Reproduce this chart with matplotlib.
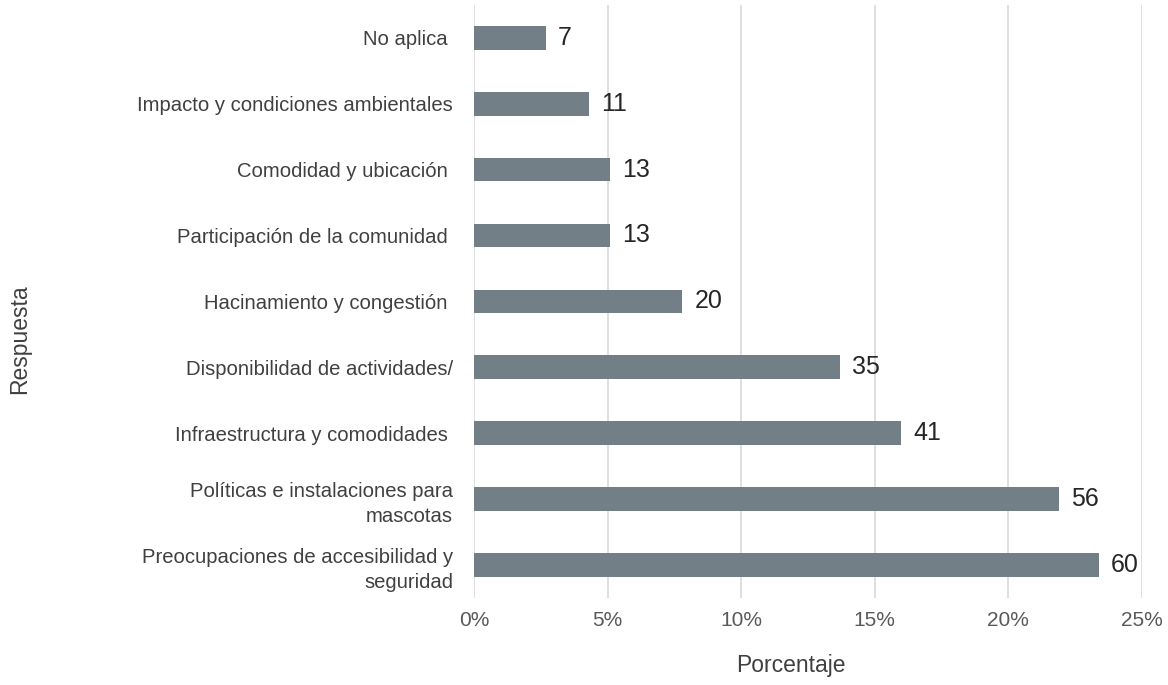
import matplotlib
matplotlib.use('Agg')
import matplotlib.pyplot as plt
from matplotlib.ticker import PercentFormatter

# categories, bottom to top
categories = [
    "Preocupaciones de accesibilidad y\nseguridad",
    "Políticas e instalaciones para\nmascotas",
    "Infraestructura y comodidades ",
    "Disponibilidad de actividades/",
    "Hacinamiento y congestión ",
    "Participación de la comunidad ",
    "Comodidad y ubicación ",
    "Impacto y condiciones ambientales",
    "No aplica ",
]
counts = [60, 56, 41, 35, 20, 13, 13, 11, 7]
percents = [23.4, 21.9, 16.0, 13.7, 7.8, 5.1, 5.1, 4.3, 2.7]
xticks = [0, 5, 10, 15, 20, 25]

plt.rcParams['font.family'] = ['Liberation Sans', 'DejaVu Sans']

fig = plt.figure(figsize=(11.68, 6.85), dpi=100)
ax = fig.add_axes([0.4058, 0.127, 0.5719, 0.866])

ypos = list(range(len(categories)))
ax.barh(ypos, percents, height=0.36, color='#737F86', zorder=3)

for y, p, c in zip(ypos, percents, counts):
    ax.text(p + 0.45, y, str(c), va='center', ha='left', fontsize=18, color='#262626')

ax.set_xlim(0, 25)
ax.set_ylim(-0.5, len(categories) - 0.5)
ax.set_xticks(xticks)
ax.xaxis.set_major_formatter(PercentFormatter(decimals=0))
ax.set_yticks(ypos)
ax.set_yticklabels(categories, fontsize=14.6, color='#404040', ha='right', linespacing=1.4)
ax.tick_params(axis='y', length=0, pad=15)
ax.tick_params(axis='x', length=0, pad=9, labelsize=15, labelcolor='#595959')

ax.grid(axis='x', color='#D9D9D9', linewidth=1.2, zorder=0)
for s in ax.spines.values():
    s.set_visible(False)

ax.set_xlabel("Porcentaje", fontsize=16.5, color='#404040')
ax.xaxis.set_label_coords(0.475, -0.095)
fig.text(0.017, 0.505, "Respuesta", rotation=90, va='center', ha='center', fontsize=16.5, color='#404040')

fig.savefig('out.png', dpi=100)
plt.close()
